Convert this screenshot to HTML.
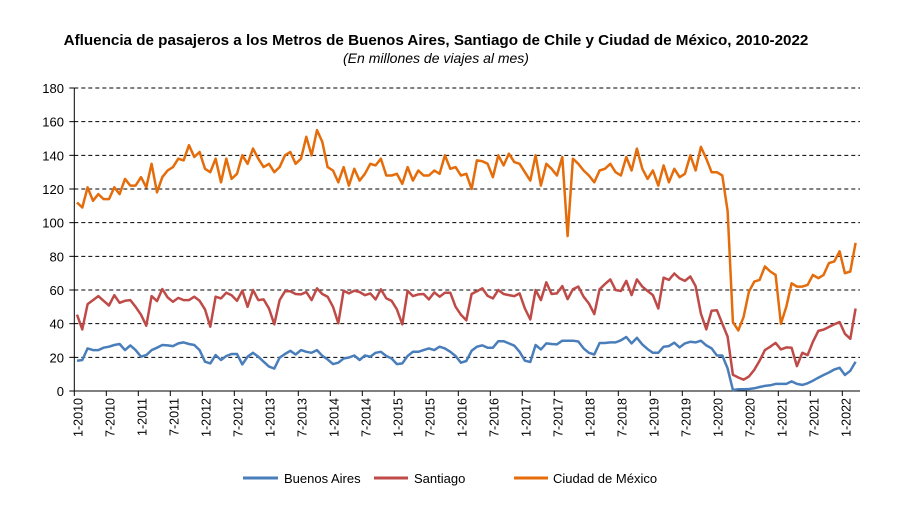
<!DOCTYPE html>
<html><head><meta charset="utf-8"><style>
body{margin:0;background:#fff;width:906px;height:505px;overflow:hidden}
svg{display:block}
text{font-family:"Liberation Sans",sans-serif}
</style></head><body>
<svg id="s" width="906" height="505" xmlns="http://www.w3.org/2000/svg">
<text x="436" y="45" text-anchor="middle" font-size="15.2" font-weight="bold">Afluencia de pasajeros a los Metros de Buenos Aires, Santiago de Chile y Ciudad de México, 2010-2022</text>
<text x="436" y="63" text-anchor="middle" font-size="14" font-style="italic">(En millones de viajes al mes)</text>
<g id="g"></g>
<line x1="243" y1="478" x2="278" y2="478" stroke="#4a7ebb" stroke-width="3"/>
<text x="284" y="483" font-size="13">Buenos Aires</text>
<line x1="374" y1="478" x2="408" y2="478" stroke="#be4b48" stroke-width="3"/>
<text x="414" y="483" font-size="13">Santiago</text>
<line x1="514" y1="478" x2="548" y2="478" stroke="#e46c0a" stroke-width="3"/>
<text x="553" y="483" font-size="13">Ciudad de México</text>
</svg>
<script>
var O=[112,109,121,113,117,114,114,121,117,126,122,122,127,121,135,118,127,131,133,138,137,146,139,142,132,130,138,124,138,126,129,140,135,144,138,133,135,130,133,140,142,135,138,151,140,155,148,133,131,124,133,122,132,125,129,135,134,138,128,128,129,123,133,125,131,128,128,131,129,140,132,133,128,129,120,137,
136.5,135,127,140,134,141,136,135,130,125,140,122,135,132,128,139,92,138,135,131,128,124,131,132,135,130,128,139,131,144,132,126,131,122,134,124,132,127,129,140,131,145,138,130,130,128,107,41,36,44,59,65,66,74,71,69,40,50,64,62,62,63,69,67,69,76,77,83,70,71,88];
var R=[45.3,36.6,51.6,54,56.4,53.6,50.8,56.9,52.4,53.6,54,50,45.3,38.8,56.4,53.4,60.6,55.6,53,55.3,54,54,56,53.6,48.5,38.2,56,55,58.4,56.9,53.6,59.6,50,60,54,54.4,49,39.6,54,59.2,59.2,57.6,57.4,58.8,54,61,57.6,56,50,40.2,59.6,58,59.6,58.8,56.9,58,54.4,60.4,55,53.6,48.5,39.6,59.6,56.4,57.4,57.6,54.4,58.6,56,58.4,58.4,50,45.3,42,57.6,59.2,
61,56.5,55,60,57.6,57,56.4,58,49,42.5,60,54,64.6,57.6,58,62.3,54.6,60.4,62,56,52,45.7,60.4,63.5,66.3,60,59.4,65.4,57,66.3,62,59.4,57,49,67.3,66,69.8,66.9,65.4,68,62.3,46,36.6,47.7,48,40,32.3,9.6,8,6.7,8.6,12.6,18,24.3,26.3,28.6,24.7,25.9,25.7,14.8,22.7,21.3,29.2,35.7,36.5,38,39.6,41,34,31,49];
var B=[18,18.4,25.3,24.3,24.3,25.7,26.3,27.3,27.9,24.3,27.1,24.3,20.4,21.3,24.3,25.7,27.3,27.1,26.7,28.3,28.9,27.9,27.3,24.3,17.4,16.4,21.3,18.4,20.8,22,22,15.8,20.4,22.7,20.4,17.4,14.5,13.3,19.8,22,23.9,21.7,24.3,23.3,22.7,24.3,20.9,18.8,16,16.8,19.3,19.9,21.1,18.4,21.1,20.4,22.7,23.3,20.8,19.3,16,16.4,20.8,23.3,23.3,24.3,25.3,24.3,26.3,25.3,23.3,20.8,16.8,17.8,23.9,26.3,
27.1,25.7,25.7,29.6,29.6,28.3,26.9,23.3,18,17.2,27.3,24.7,28.3,27.9,27.7,29.9,29.9,29.9,29.4,25.3,22.7,21.7,28.5,28.5,28.9,28.9,30.1,32.1,28.3,31.6,27.7,24.9,22.7,22.7,26.3,26.7,28.7,25.9,28.3,29.2,28.9,29.9,27.1,25.3,21.1,21.1,13.4,0.6,1,1,1.2,1.6,2.4,3,3.4,4.2,4.2,4.2,5.7,4.2,3.6,4.6,6.1,7.9,9.5,11,12.8,13.8,9.5,12,17.4];
var X0=74.3,Y0=391,PX=5.333,PY=303/180,h='';
for(var v=0;v<=180;v+=20){var y=Y0-v*PY;
 if(v>0)h+='<line x1="'+X0+'" y1="'+y+'" x2="860" y2="'+y+'" stroke="#000" stroke-width="1" stroke-dasharray="4,3"/>';
 h+='<line x1="'+(X0-5)+'" y1="'+y+'" x2="'+X0+'" y2="'+y+'" stroke="#000"/>';
 h+='<text x="64" y="'+(y+5)+'" text-anchor="end" font-size="13">'+v+'</text>';}
h+='<line x1="'+X0+'" y1="88" x2="'+X0+'" y2="'+Y0+'" stroke="#000"/><line x1="'+X0+'" y1="'+Y0+'" x2="860" y2="'+Y0+'" stroke="#000"/>';
for(var k=0;k<=24;k++){var x=X0+k*32;h+='<line x1="'+x+'" y1="'+Y0+'" x2="'+x+'" y2="'+(Y0+5)+'" stroke="#000"/>';
 var lab=(k%2?'7-':'1-')+(2010+Math.floor(k/2));
 h+='<text transform="translate('+(x+8)+',398) rotate(-90)" text-anchor="end" font-size="12.5">'+lab+'</text>';}
function pl(a,c){var p=a.map(function(v,i){return (X0+(i+0.5)*PX).toFixed(1)+','+(Y0-v*PY).toFixed(1)}).join(' ');
 return '<polyline points="'+p+'" fill="none" stroke="'+c+'" stroke-width="2.5" stroke-linejoin="round"/>';}
h+=pl(B,'#4a7ebb')+pl(R,'#be4b48')+pl(O,'#e46c0a');
document.getElementById('g').innerHTML=h;
</script>
</body></html>
